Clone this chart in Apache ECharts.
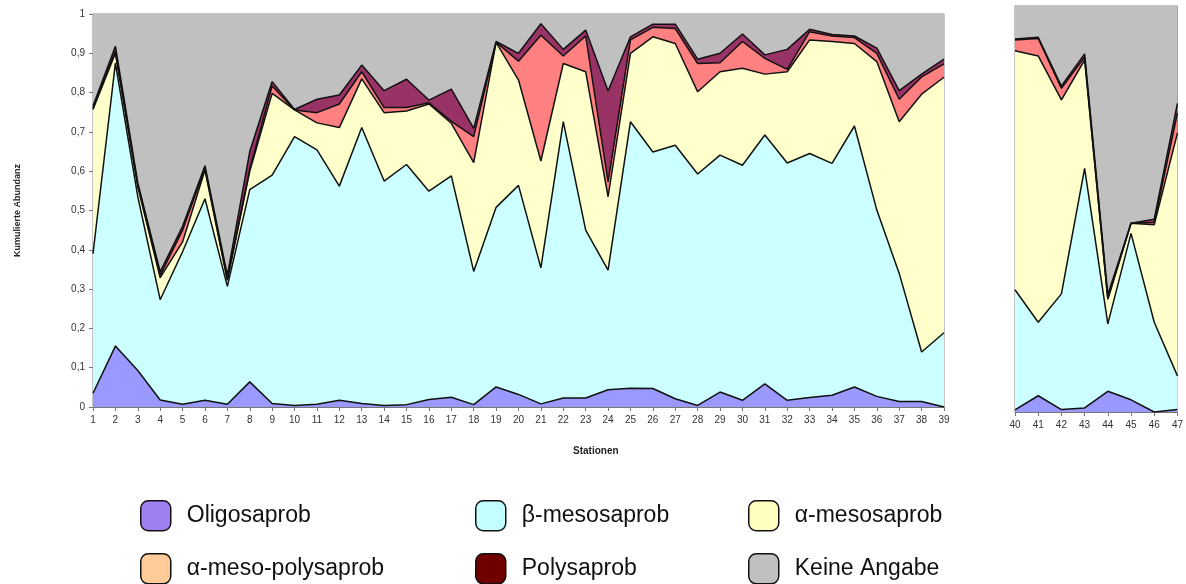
<!DOCTYPE html>
<html>
<head>
<meta charset="utf-8">
<script src="https://cdn.jsdelivr.net/npm/echarts@6/dist/echarts.min.js"></script>
<style>
html,body{margin:0;padding:0;background:#fff;}
#chart{width:1186px;height:584px;}
</style>
</head>
<body>
<div id="chart"></div>
<script>
// Stations (left panel 1-39, right panel 40-47)
const stationsA = ['1','2','3','4','5','6','7','8','9','10','11','12','13','14','15','16','17','18','19','20','21','22','23','24','25','26','27','28','29','30','31','32','33','34','35','36','37','38','39'];
const stationsB = ['40','41','42','43','44','45','46','47'];

// Cumulative abundance (upper edge of each layer)
const oligoA = [0.035,0.155,0.093,0.018,0.007,0.017,0.007,0.064,0.009,0.004,0.007,0.017,0.009,0.004,0.006,0.019,0.025,0.006,0.051,0.032,0.008,0.023,0.023,0.044,0.048,0.047,0.021,0.004,0.038,0.017,0.059,0.017,0.024,0.030,0.051,0.027,0.014,0.014,0.0];
const betaA  = [0.39,0.875,0.535,0.273,0.395,0.53,0.307,0.553,0.59,0.688,0.654,0.562,0.711,0.575,0.617,0.549,0.588,0.345,0.508,0.564,0.354,0.726,0.45,0.348,0.726,0.649,0.666,0.593,0.641,0.615,0.692,0.621,0.645,0.62,0.715,0.501,0.34,0.14,0.189];
const alphaA = [0.757,0.9,0.56,0.329,0.42,0.603,0.322,0.6,0.798,0.756,0.723,0.711,0.835,0.749,0.753,0.771,0.722,0.622,0.928,0.832,0.626,0.874,0.853,0.535,0.9,0.942,0.925,0.802,0.853,0.862,0.847,0.853,0.934,0.93,0.925,0.879,0.726,0.796,0.839];
const ampA   = [0.76,0.905,0.565,0.335,0.45,0.608,0.325,0.605,0.817,0.756,0.749,0.771,0.853,0.762,0.762,0.774,0.727,0.688,0.928,0.88,0.946,0.893,0.944,0.573,0.934,0.966,0.963,0.874,0.876,0.93,0.887,0.859,0.955,0.944,0.94,0.9,0.783,0.84,0.873];
const polyA  = [0.766,0.918,0.57,0.344,0.46,0.614,0.335,0.65,0.828,0.757,0.783,0.794,0.87,0.805,0.834,0.781,0.809,0.709,0.93,0.9,0.975,0.91,0.959,0.804,0.942,0.974,0.974,0.885,0.9,0.949,0.896,0.91,0.961,0.948,0.944,0.913,0.805,0.847,0.885];
const totalA = [1,1,1,1,1,1,1,1,1,1,1,1,1,1,1,1,1,1,1,1,1,1,1,1,1,1,1,1,1,1,1,1,1,1,1,1,1,1,1];

const oligoB = [0.005,0.04,0.006,0.01,0.051,0.03,0.0,0.006];
const betaB  = [0.301,0.221,0.291,0.6,0.217,0.44,0.221,0.089];
const alphaB = [0.89,0.877,0.769,0.867,0.278,0.465,0.461,0.687];
const ampB   = [0.916,0.92,0.797,0.874,0.278,0.465,0.467,0.736];
const polyB  = [0.919,0.923,0.803,0.882,0.289,0.465,0.475,0.76];
const totalB = [1,1,1,1,1,1,1,1];

const names = ['Oligosaprob','β-mesosaprob','α-mesosaprob','α-meso-polysaprob','Polysaprob','Keine Angabe'];
const yTicks = ['0','0,1','0,2','0,3','0,4','0,5','0,6','0,7','0,8','0,9','1'];

const areaColors = {
  'Oligosaprob':'#9999FF','β-mesosaprob':'#CCFFFF','α-mesosaprob':'#FFFFCC',
  'α-meso-polysaprob':'#FF8080','Polysaprob':'#993366','Keine Angabe':'#C0C0C0'
};
const legendColors = {
  'Oligosaprob':'#A080F0','β-mesosaprob':'#C4FFFF','α-mesosaprob':'#FFFFC0',
  'α-meso-polysaprob':'#FFCC99','Polysaprob':'#700000','Keine Angabe':'#C0C0C0'
};

const FONT = 'Liberation Sans, Arial, sans-serif';

function mkSeries(name, data, idx){
  const isTotal = name === 'Keine Angabe';
  return {
    name: name, type:'line', data: data, xAxisIndex: idx, yAxisIndex: idx,
    symbol:'none', smooth:false, silent:true,
    lineStyle: isTotal ? {width:0, color:areaColors[name]} : {color:'#111', width:1.5},
    itemStyle: {color: areaColors[name]},
    areaStyle: {color: areaColors[name], opacity:1},
    animation:false
  };
}

const series = [];
[[totalA,polyA,ampA,alphaA,betaA,oligoA,0],[totalB,polyB,ampB,alphaB,betaB,oligoB,1]].forEach(set=>{
  const idx = set[6];
  series.push(mkSeries('Keine Angabe', set[0], idx));
  series.push(mkSeries('Polysaprob', set[1], idx));
  series.push(mkSeries('α-meso-polysaprob', set[2], idx));
  series.push(mkSeries('α-mesosaprob', set[3], idx));
  series.push(mkSeries('β-mesosaprob', set[4], idx));
  series.push(mkSeries('Oligosaprob', set[5], idx));
});

const legendPos = [
  [140,500],[475,500],[748,500],
  [140,553],[475,553],[748,553]
];
const legends = names.map((n,i)=>({
  left: legendPos[i][0], top: legendPos[i][1], padding:0,
  itemWidth: 30, itemHeight: 30, icon:'roundRect',
  selectedMode:false,
  data:[{name:n, itemStyle:{color:legendColors[n], borderColor:'#111', borderWidth:1.5}}],
  textStyle:{fontFamily:FONT, fontSize:23, color:'#111', padding:[0,0,0,11]}
}));

const axisLabelStyle = {fontFamily:FONT, fontSize:10, color:'#333'};

const option = {
  animation:false,
  backgroundColor:'#fff',
  grid:[
    {left:93, top:14, width:851, height:393, show:true, borderColor:'#8a8a8a', borderWidth:1, backgroundColor:'#C0C0C0'},
    {left:1015, top:6, width:163, height:406, show:true, borderColor:'#8a8a8a', borderWidth:1, backgroundColor:'#C0C0C0'}
  ],
  xAxis:[
    {type:'category', gridIndex:0, data:stationsA, boundaryGap:false,
     axisLine:{lineStyle:{color:'#777'}}, axisTick:{show:true, length:4, alignWithLabel:true, lineStyle:{color:'#777'}},
     axisLabel:Object.assign({interval:0, margin:8}, axisLabelStyle), splitLine:{show:false}},
    {type:'category', gridIndex:1, data:stationsB, boundaryGap:false,
     axisLine:{lineStyle:{color:'#777'}}, axisTick:{show:true, length:4, lineStyle:{color:'#777'}},
     axisLabel:Object.assign({interval:0, margin:8}, axisLabelStyle), splitLine:{show:false}}
  ],
  yAxis:[
    {type:'value', gridIndex:0, min:0, max:1, interval:0.1,
     name:'Kumulierte Abundanz', nameLocation:'middle', nameGap:71, nameRotate:90,
     nameTextStyle:{fontFamily:FONT, fontSize:9, fontWeight:'bold', color:'#222'},
     axisLine:{show:true, lineStyle:{color:'#777'}}, axisTick:{show:true, length:4, lineStyle:{color:'#777'}},
     axisLabel:Object.assign({margin:8, formatter:(v)=>yTicks[Math.round(v*10)]}, axisLabelStyle),
     splitLine:{show:false}},
    {type:'value', gridIndex:1, min:0, max:1, interval:0.1,
     axisLine:{show:true, lineStyle:{color:'#777'}}, axisTick:{show:false},
     axisLabel:{show:false}, splitLine:{show:false}}
  ],
  legend: legends,
  graphic:[
    {type:'text', left:573, top:446, style:{text:'Stationen', fontFamily:FONT, fontSize:10, fontWeight:'bold', fill:'#222'}}
  ],
  series: series
};

const chart = echarts.init(document.getElementById('chart'), null, {renderer:'canvas'});
chart.setOption(option);
</script>
</body>
</html>
